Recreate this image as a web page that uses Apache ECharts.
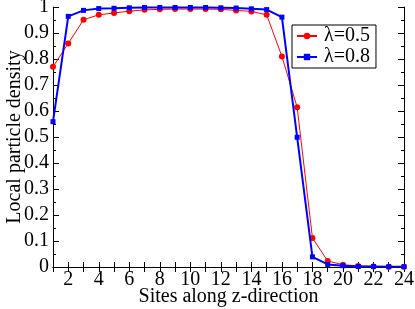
<!DOCTYPE html>
<html><head><meta charset="utf-8">
<script src="https://cdn.jsdelivr.net/npm/echarts@6/dist/echarts.min.js"></script>
<style>html,body{margin:0;padding:0;background:#fff}#c{width:415px;height:309px}</style>
</head><body><div id="c"></div>
<script>
const sites = [1,2,3,4,5,6,7,8,9,10,11,12,13,14,15,16,17,18,19,20,21,22,23,24];
const lambda05 = [0.77,0.86,0.951,0.970,0.977,0.984,0.989,0.991,0.992,0.992,0.992,0.991,0.987,0.983,0.970,0.810,0.614,0.112,0.023,0.009,0.004,0.002,0.001,0.001];
const lambda08 = [0.559,0.964,0.987,0.994,0.995,0.997,0.998,0.998,0.998,0.998,0.998,0.997,0.996,0.993,0.990,0.961,0.499,0.039,0.010,0.005,0.002,0.002,0.001,0.001];
const seriesNames = ['λ=0.5','λ=0.8'];
const xName = 'Sites along z-direction';
const yName = 'Local particle density';

const font = 'Liberation Serif';
const chart = echarts.init(document.getElementById('c'));
const tickStyle = {show:true, inside:true, length:6, lineStyle:{color:'#000',width:1}};
const minorStyle = {show:true, splitNumber:2, length:3, lineStyle:{color:'#000',width:1}};
chart.setOption({
  animation:false,
  grid:{left:53, top:7, right:11, bottom:42, containLabel:false, outerBoundsMode:'none'},
  legend:{
    left:292, top:25, orient:'vertical', itemGap:1, itemWidth:20, itemHeight:8,
    padding:[1,6,1,4], borderColor:'#000', borderWidth:1, backgroundColor:'#fff',
    textStyle:{fontFamily:font, fontSize:20, lineHeight:19, color:'#000', padding:[0,0,0,2]},
    data:seriesNames
  },
  xAxis:[{
    type:'value', min:1, max:24, interval:1,
    name:xName, nameLocation:'middle', nameGap:20, nameMoveOverlap:false,
    nameTextStyle:{fontFamily:font, fontSize:20, color:'#000'},
    axisLine:{show:true, lineStyle:{color:'#000',width:1}},
    axisTick:{show:true, inside:true, length:5, lineStyle:{color:'#000'}},
    axisLabel:{fontFamily:font, fontSize:20, color:'#000', margin:3,
      formatter:v=> (v%2===0? String(v):'')},
    splitLine:{show:false}
  },{
    type:'value', min:1, max:24, interval:1, position:'top',
    axisLine:{show:true, lineStyle:{color:'#000',width:1}},
    axisTick:{show:true, inside:true, length:5, lineStyle:{color:'#000'}},
    axisLabel:{show:false}, splitLine:{show:false}
  }],
  yAxis:[{
    type:'value', min:0, max:1, interval:0.1,
    name:yName, nameLocation:'middle', nameGap:28, nameMoveOverlap:false,
    nameTextStyle:{fontFamily:font, fontSize:20, color:'#000'},
    axisLine:{show:true, lineStyle:{color:'#000',width:1}},
    axisTick:tickStyle, minorTick:minorStyle,
    axisLabel:{fontFamily:font, fontSize:20, color:'#000', margin:4,
      formatter:v=> (Math.abs(v-1)<1e-9?'1':(Math.abs(v)<1e-9?'0':v.toFixed(1)))},
    splitLine:{show:false}
  },{
    type:'value', min:0, max:1, interval:0.1, position:'right',
    axisLine:{show:true, lineStyle:{color:'#000',width:1}},
    axisTick:tickStyle, minorTick:minorStyle,
    axisLabel:{show:false}, splitLine:{show:false}
  }],
  series:[{
    name:seriesNames[0], type:'line', data:sites.map((s,i)=>[s,lambda05[i]]),
    symbol:'circle', symbolSize:6, showAllSymbol:true,
    lineStyle:{color:'#ff0000', width:1}, itemStyle:{color:'#ff0000'}, z:2
  },{
    name:seriesNames[1], type:'line', data:sites.map((s,i)=>[s,lambda08[i]]),
    symbol:'rect', symbolSize:5, showAllSymbol:true,
    lineStyle:{color:'#0000ff', width:2}, itemStyle:{color:'#0000ff'}, z:3
  }]
});
</script></body></html>
